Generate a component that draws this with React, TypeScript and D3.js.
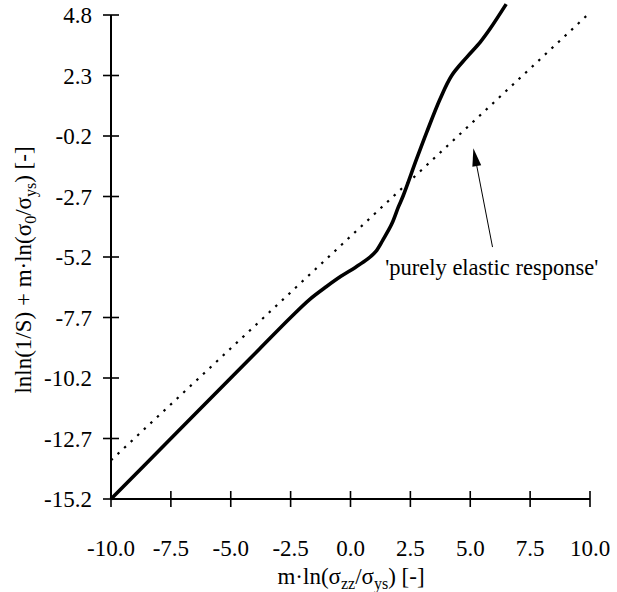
import React from "react";
import * as d3 from "d3";

const xTicks = [-10.0, -7.5, -5.0, -2.5, 0.0, 2.5, 5.0, 7.5, 10.0];
const yTicks = [-15.2, -12.7, -10.2, -7.7, -5.2, -2.7, -0.2, 2.3, 4.8];

// measured response curve
const curveX = [-10, -7.5, -5, -3.8, -2.5, -1.7, -1.0, -0.4, 0.2, 0.72, 1.05, 1.35, 1.72, 2.0, 2.2, 2.76, 3.18, 3.74, 4.22, 4.85, 5.41, 5.82, 6.5];
const curveY = [-15.2, -12.7, -10.2, -9.0, -7.7, -6.95, -6.42, -6.0, -5.63, -5.28, -4.98, -4.5, -3.84, -3.13, -2.67, -1.15, -0.05, 1.33, 2.29, 3.05, 3.67, 4.22, 5.25];

// purely elastic response line
const elasticX = [-10, 10];
const elasticY = [-13.6, 4.9];

// annotation (data coords)
const arrowTail = [5.93, -4.79];
const arrowTip = [5.13, -0.71];
const labelPos = [1.45, -5.95];

const W = 617;
const H = 592;
const FONT = "'Liberation Serif', 'Times New Roman', serif";

export default function App() {
  const x = d3.scaleLinear().domain([-10, 10]).range([111, 590]);
  const y = d3.scaleLinear().domain([-15.2, 4.8]).range([499, 15]);

  const curve = curveX.map((v, i) => [v, curveY[i]] as [number, number]);
  const elastic = elasticX.map((v, i) => [v, elasticY[i]] as [number, number]);
  const line = d3
    .line<[number, number]>()
    .x((d) => x(d[0]))
    .y((d) => y(d[1]))
    .curve(d3.curveCatmullRom.alpha(0.5));

  const tx = x(arrowTip[0]);
  const ty = y(arrowTip[1]);
  const bx = x(arrowTail[0]);
  const by = y(arrowTail[1]);
  const ang = Math.atan2(ty - by, tx - bx);
  const hl = 18;
  const hw = 4.5;
  const baseX = tx - hl * Math.cos(ang);
  const baseY = ty - hl * Math.sin(ang);
  const px = -Math.sin(ang);
  const py = Math.cos(ang);
  const head = `M${tx},${ty}L${baseX + hw * px},${baseY + hw * py}L${baseX - hw * px},${baseY - hw * py}Z`;

  return (
    <svg
      width={W}
      height={H}
      style={{ position: "absolute", left: 0, top: 0, background: "#fff" }}
      fontFamily={FONT}
    >
      {/* axes */}
      <line x1={x(-10)} x2={x(10)} y1={y(-15.2)} y2={y(-15.2)} stroke="#000" strokeWidth={2} />
      <line x1={x(-10)} x2={x(-10)} y1={y(-15.2)} y2={y(4.8)} stroke="#000" strokeWidth={2} />
      {xTicks.map((t) => (
        <g key={"x" + t}>
          <line x1={x(t)} x2={x(t)} y1={y(-15.2) - 8} y2={y(-15.2) + 8} stroke="#000" strokeWidth={1.6} />
          <text x={x(t)} y={556} textAnchor="middle" fontSize={23}>
            {t.toFixed(1)}
          </text>
        </g>
      ))}
      {yTicks.map((t) => (
        <g key={"y" + t}>
          <line x1={x(-10) - 8} x2={x(-10) + 8} y1={y(t)} y2={y(t)} stroke="#000" strokeWidth={1.6} />
          <text x={92} y={y(t) + 8} textAnchor="end" fontSize={23}>
            {t.toFixed(1)}
          </text>
        </g>
      ))}

      {/* elastic line */}
      <path d={line(elastic) || ""} fill="none" stroke="#000" strokeWidth={2.2} strokeDasharray="2.4 6.6" />
      {/* response curve */}
      <path d={line(curve) || ""} fill="none" stroke="#000" strokeWidth={3.6} strokeLinejoin="round" />

      {/* annotation */}
      <line x1={bx} y1={by} x2={baseX} y2={baseY} stroke="#000" strokeWidth={1} />
      <path d={head} fill="#000" />
      <text x={x(labelPos[0])} y={y(labelPos[1])} fontSize={22.5}>
        'purely elastic response'
      </text>

      {/* axis titles */}
      <text x={351} y={584} textAnchor="middle" fontSize={23}>
        m·ln(σ
        <tspan fontSize={16} dy={5}>zz</tspan>
        <tspan dy={-5}>/σ</tspan>
        <tspan fontSize={16} dy={5}>ys</tspan>
        <tspan dy={-5}>) [-]</tspan>
      </text>
      <text transform={`translate(31,270) rotate(-90)`} textAnchor="middle" fontSize={23}>
        lnln(1/S) + m·ln(σ
        <tspan fontSize={16} dy={5}>0</tspan>
        <tspan dy={-5}>/σ</tspan>
        <tspan fontSize={16} dy={5}>ys</tspan>
        <tspan dy={-5}>) [-]</tspan>
      </text>
    </svg>
  );
}
